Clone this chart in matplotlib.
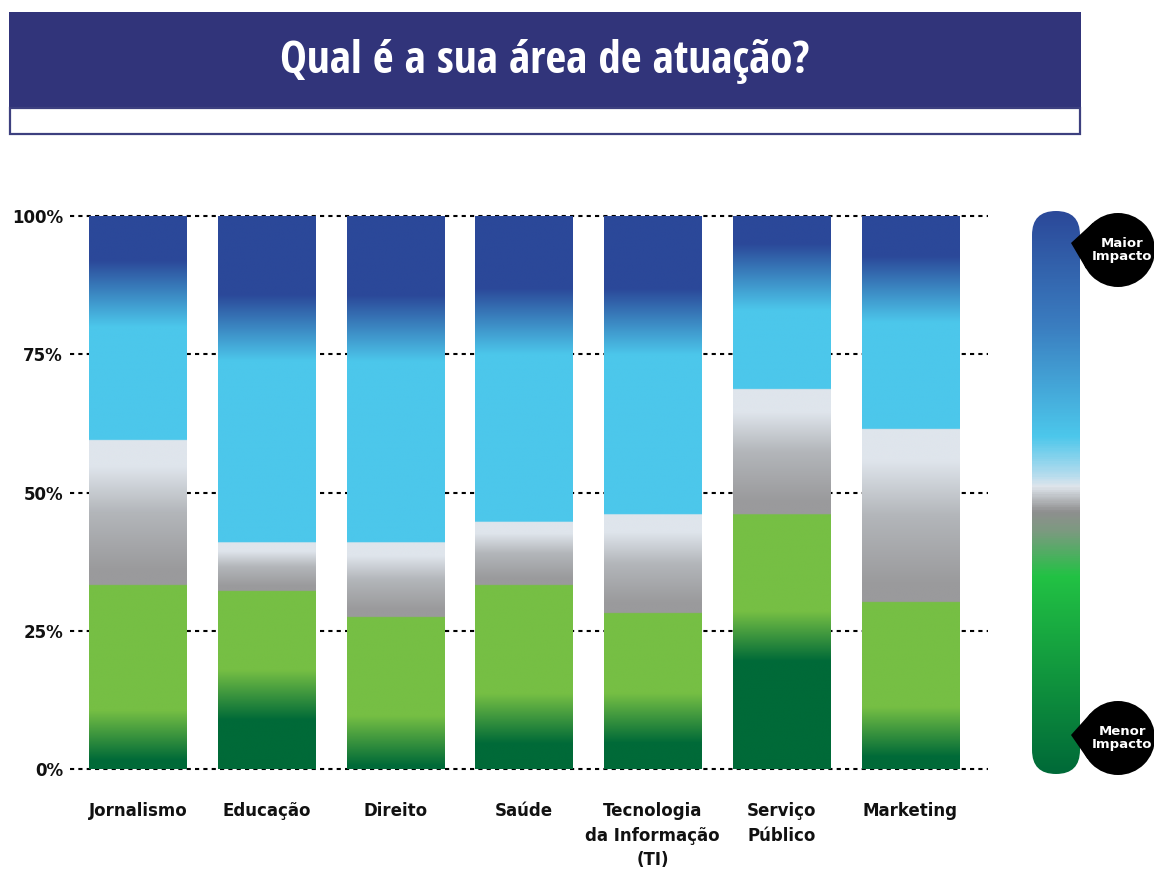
import os
import numpy as np
import matplotlib.pyplot as plt
from matplotlib import font_manager
from matplotlib.colors import to_rgb, LinearSegmentedColormap
from matplotlib.patches import FancyBboxPatch, Rectangle, Circle, Polygon

plt.rcParams['font.family'] = ['DejaVu Sans']

# data (percent of answers per impact level, bottom to top)
categories = ["Jornalismo", "Educação", "Direito", "Saúde",
              "Tecnologia\nda Informação\n(TI)", "Serviço\nPúblico", "Marketing"]
muito_baixo = [6.1, 13.4, 5.1, 9.1, 9.2, 24.0, 6.7]
baixo = [27.2, 18.8, 22.4, 24.2, 19.0, 22.1, 23.5]
neutro = [26.2, 8.8, 13.5, 11.4, 17.9, 22.6, 31.3]
alto = [26.5, 38.8, 38.7, 36.3, 34.8, 20.3, 25.3]
muito_alto = [14.0, 20.2, 20.3, 19.0, 19.1, 11.0, 13.2]
yticks = [0, 25, 50, 75, 100]
ytick_labels = ["0%", "25%", "50%", "75%", "100%"]

DG = np.array(to_rgb("#006a38"))
LG = np.array(to_rgb("#76bf44"))
LB = np.array(to_rgb("#4cc7eb"))
DB = np.array(to_rgb("#2b4899"))
gray_cmap = LinearSegmentedColormap.from_list(
    "g", [(0, "#9a9a9c"), (0.1, "#9a9a9c"), (0.5, "#b3b6ba"), (0.82, "#dfe5ec"), (1, "#dfe5ec")])
H_GREEN = 4.5
H_BLUE = 6.0

# condensed bold face for the title: prefer a static "...Bold" file
title_font = None
cands = []
for f in font_manager.fontManager.ttflist:
    if "Open Sans" in f.name and f.weight in (700, "bold") and f.style == "normal":
        base = os.path.basename(f.fname)
        if "Condensed" in base or f.stretch == "condensed":
            score = 0
            if "Bold" in base and "Semi" not in base and "Extra" not in base:
                score -= 2
            if "[" in base:
                score += 3
            cands.append((score, f.fname))
if cands:
    cands.sort()
    title_font = font_manager.FontProperties(fname=cands[0][1], size=32.5, weight="bold")
else:
    title_font = font_manager.FontProperties(family="DejaVu Sans", weight="bold", size=26)


def bar_gradient(vals, n=1400):
    total = sum(vals)
    y = np.linspace(0, total, n)
    c1 = vals[0]
    c2 = c1 + vals[1]
    c3 = c2 + vals[2]
    c4 = c3 + vals[3]
    t = np.clip((y - (c1 - H_GREEN)) / (2 * H_GREEN), 0, 1)[:, None]
    green = DG * (1 - t) + LG * t
    tg = np.clip((y - c2) / (c3 - c2), 0, 1)
    gray = gray_cmap(tg)[:, :3]
    tb = np.clip((y - (c4 - H_BLUE)) / (2 * H_BLUE), 0, 1)[:, None]
    blue = LB * (1 - tb) + DB * tb
    yy = y[:, None]
    img = np.where(yy < c2, green, np.where(yy < c3, gray, blue))
    return img[:, None, :], total


fig = plt.figure(figsize=(11.54, 8.72), dpi=100)

# decoration layer in pixel coordinates
deco = fig.add_axes([0, 0, 1, 1])
deco.set_xlim(0, 1154)
deco.set_ylim(872, 0)
deco.axis("off")
deco.add_patch(Rectangle((9, 12), 1072, 96, facecolor="#31347a", edgecolor="none"))
deco.add_patch(Rectangle((10, 108), 1070, 26, facecolor="white", edgecolor="#3d407f", lw=1.6))
deco.text(545, 62, "Qual é a sua área de atuação?", color="white", ha="center", va="center",
          fontproperties=title_font)

# impact colour scale
cb_colors = [(0.0, "#2b4899"), (0.2, "#3a7cbf"), (0.40, "#4cc7eb"), (0.47, "#b5dcee"),
             (0.49, "#dfe5ec"), (0.535, "#8f8f8f"), (0.57, "#7c9a80"), (0.65, "#22c244"),
             (1.0, "#006a38")]
cb_cmap = LinearSegmentedColormap.from_list("cb", cb_colors)
grad = np.linspace(0, 1, 600)[:, None]
im = deco.imshow(grad, cmap=cb_cmap, extent=[1032, 1080, 774, 211], aspect="auto",
                 interpolation="bilinear")
pill = FancyBboxPatch((1032, 211), 48, 563, boxstyle="round,pad=0,rounding_size=24",
                      facecolor="none", edgecolor="none")
deco.add_patch(pill)
im.set_clip_path(pill)


def bubble(ax, cx, cy, r, tx, ty, label):
    d = np.hypot(tx - cx, ty - cy)
    th0 = np.arctan2(ty - cy, tx - cx)
    a = np.arccos(r / d)
    p1 = (cx + r * np.cos(th0 + a), cy + r * np.sin(th0 + a))
    p2 = (cx + r * np.cos(th0 - a), cy + r * np.sin(th0 - a))
    ax.add_patch(Circle((cx, cy), r, facecolor="black", edgecolor="none"))
    ax.add_patch(Polygon([(tx, ty), p1, (cx, cy), p2], closed=True, facecolor="black",
                         edgecolor="none"))
    ax.text(cx + 4, cy, label, color="white", ha="center", va="center", fontsize=9.5,
            fontweight="bold", linespacing=1.05)


bubble(deco, 1118, 250, 37, 1071, 243, "Maior\nImpacto")
bubble(deco, 1118, 738, 37, 1071, 735, "Menor\nImpacto")
deco.set_xlim(0, 1154)
deco.set_ylim(872, 0)

# main chart
ax = fig.add_axes([70 / 1154, 103 / 872, 918 / 1154, 553 / 872])
ax.patch.set_alpha(0)
x = np.arange(len(categories))
width = 0.754
for i in x:
    vals = [muito_baixo[i], baixo[i], neutro[i], alto[i], muito_alto[i]]
    img, total = bar_gradient(vals)
    ax.imshow(img, extent=[i - width / 2, i + width / 2, 0, total], origin="lower",
              aspect="auto", interpolation="bilinear", zorder=2)

ax.hlines(yticks, -0.528, 6.606, colors="black", linestyles=(0, (2, 2)), lw=1.5,
          zorder=0, clip_on=False)
ax.set_xlim(-0.528, 6.606)
ax.set_ylim(0, 100)
for s in ax.spines.values():
    s.set_visible(False)
ax.set_yticks(yticks)
ax.set_yticklabels(ytick_labels, fontsize=12, fontweight="bold", color="#111111")
ax.set_xticks(x)
ax.set_xticklabels(categories, fontsize=12, fontweight="bold", color="#111111",
                   linespacing=1.45)
ax.tick_params(axis="y", length=0, pad=5)
ax.tick_params(axis="x", length=0, pad=24)

fig.savefig("out.png", dpi=100)
